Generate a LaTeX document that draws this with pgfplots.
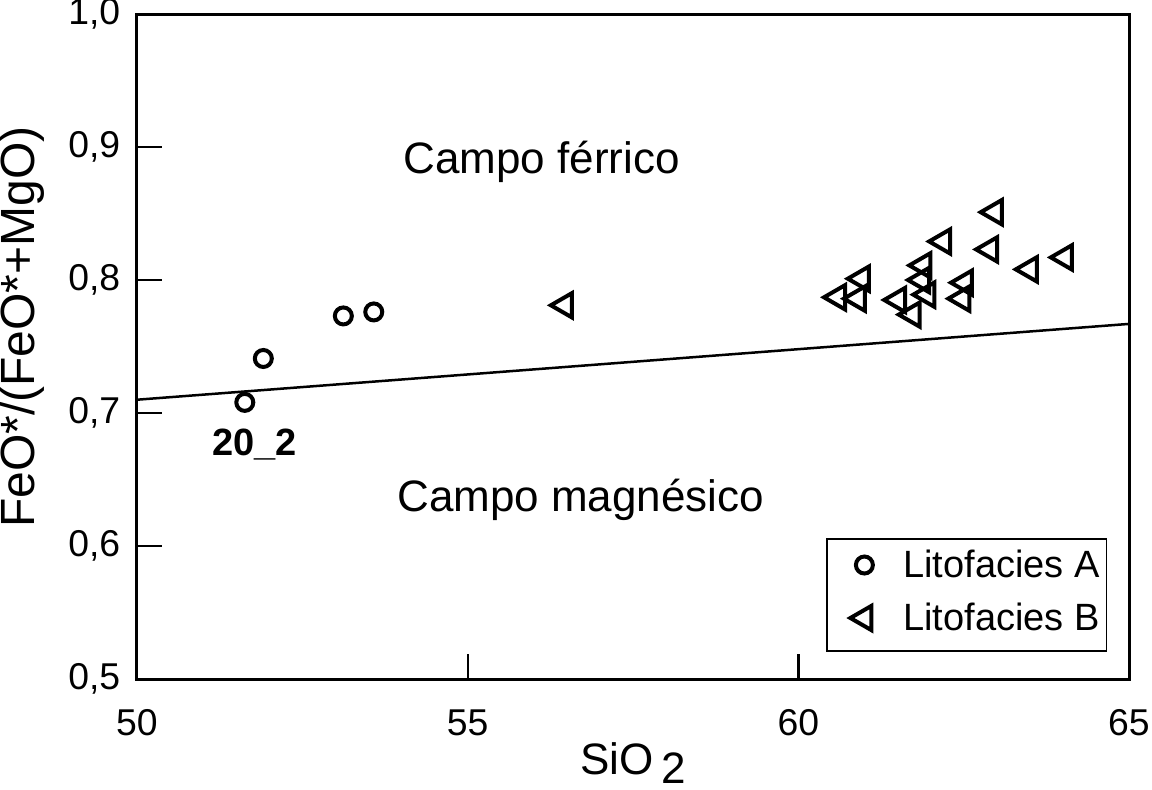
\documentclass[border=0pt]{standalone}
\usepackage{pgfplots}
\pgfplotsset{compat=1.18}
\usepackage{fontspec}
\setmainfont{Liberation Sans}

\begin{document}
\begin{tikzpicture}
\begin{axis}[
  scale only axis,
  width=297.6pt, height=199.5pt,
  xmin=50, xmax=65, ymin=0.5, ymax=1.0,
  xtick={50,55,60,65},
  ytick={0.5,0.6,0.7,0.8,0.9,1.0},
  xtick pos=bottom, ytick pos=left,
  tick align=inside,
  major tick length=7.5pt,
  axis line style={line width=0.9pt},
  every tick/.style={line width=0.7pt, black},
  /pgf/number format/assume math mode=true,
  yticklabel style={/pgf/number format/use comma, /pgf/number format/fixed,
    /pgf/number format/fixed zerofill, /pgf/number format/precision=1, xshift=-1.5pt},
  ticklabel style={font=\fontsize{11.2}{13}\selectfont},
  xticklabel style={anchor=base, yshift=-16.8pt},
  xlabel={SiO\,\raisebox{-0.22em}{2}},
  ylabel={FeO*/(FeO*+MgO)},
  xlabel style={font=\fontsize{13.2}{15}\selectfont, at={(axis description cs:0.5,-0.143)}, anchor=base},
  ylabel style={font=\fontsize{14.4}{16}\selectfont, at={(axis description cs:-0.116,0.529)}, anchor=center},
  legend style={at={(axis description cs:0.978,0.0406)}, anchor=south east,
    draw=black, line width=0.5pt, font=\fontsize{11.4}{13}\selectfont,
    inner xsep=2pt, inner ysep=3.6pt, row sep=5.4pt,
    nodes={inner xsep=0pt, inner ysep=0pt, text height=0.75em, text depth=0.25em}},
  legend cell align=left,
  legend image code/.code={\path (-9pt,-5pt) (11.4pt,5pt); \draw[#1] plot coordinates {(0pt,1.1pt)};},
]
\addplot[forget plot, no marks, line width=0.75pt] coordinates {(50,0.710) (65,0.767)};

\addplot[only marks, mark=o, mark size=2.55pt, mark options={line width=1.2pt}] coordinates {
  (51.63,0.708) (51.91,0.741) (53.12,0.773) (53.58,0.776)
};
\addlegendentry{Litofacies A}

\addplot[only marks, mark=triangle, mark size=4.2pt, mark options={rotate=90, line width=1.2pt}] coordinates {
  (56.47,0.781)
  (62.97,0.851) (62.19,0.829) (62.90,0.823) (63.50,0.808) (64.03,0.817)
  (60.96,0.801) (60.60,0.787) (60.90,0.786)
  (61.89,0.811) (61.87,0.800) (61.95,0.789) (61.51,0.785) (61.73,0.774)
  (62.52,0.798) (62.48,0.786)
};
\addlegendentry{Litofacies B}

\node[anchor=base, font=\fontsize{13.2}{16}\selectfont] at (axis cs:56.12,0.880) {Campo férrico};
\node[anchor=base, font=\fontsize{13.2}{16}\selectfont] at (axis cs:56.71,0.6256) {Campo magnésico};
\node[anchor=base, font=\bfseries\fontsize{11.4}{13}\selectfont] at (axis cs:51.78,0.6684) {20\_2};
\end{axis}
\pgfresetboundingbox
\useasboundingbox (-41.1pt,-33pt) rectangle (304.5pt,203.7pt);
\end{tikzpicture}
\end{document}
